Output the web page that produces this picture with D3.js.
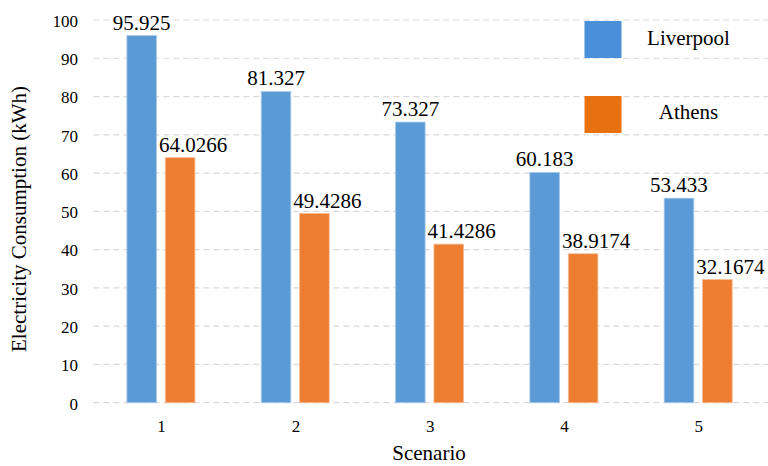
<!DOCTYPE html>
<html>
<head>
<meta charset="utf-8">
<script src="https://cdn.jsdelivr.net/npm/d3@7"></script>
<style>
  html, body { margin: 0; padding: 0; background: #fff; }
  svg { display: block; }
  svg text { font-family: 'Liberation Serif', 'DejaVu Serif', serif; }
</style>
</head>
<body>
<svg id="chart" width="768" height="466"></svg>
<script>
// Electricity consumption per scenario for two cities
const scenarios = ["1", "2", "3", "4", "5"];
const seriesNames = ["Liverpool", "Athens"];
const liverpool = [95.925, 81.327, 73.327, 60.183, 53.433];
const athens = [64.0266, 49.4286, 41.4286, 38.9174, 32.1674];
const yTicks = [0, 10, 20, 30, 40, 50, 60, 70, 80, 90, 100];

const barColors = ["#5b9bd5", "#ed7d31"];
const legendColors = ["#4a90d9", "#e9700f"];
const serif = "'Liberation Serif', 'DejaVu Serif', serif";

const svg = d3.select("#chart");
const plot = { left: 94.4, right: 766, top: 20, bottom: 402.7 };

const x = d3.scaleBand().domain(scenarios).range([plot.left, plot.right]).padding(0);
const xs = d3.scaleBand().domain(seriesNames).range([32.5, 100.5]).paddingInner(0.23).paddingOuter(0);
const y = d3.scaleLinear().domain([0, 100]).range([plot.bottom, plot.top]);

// dashed horizontal gridlines
svg.append("g")
  .selectAll("line")
  .data(yTicks)
  .join("line")
  .attr("x1", plot.left - 1)
  .attr("x2", 768)
  .attr("y1", d => y(d))
  .attr("y2", d => y(d))
  .attr("stroke", "#d9d9d9")
  .attr("stroke-width", 1.2)
  .attr("stroke-dasharray", "6,4");

// y axis tick labels
const yAxis = d3.axisLeft(y).tickValues(yTicks).tickSize(0).tickPadding(0);
const yg = svg.append("g").attr("transform", "translate(78,0)").call(yAxis)
  .attr("font-family", serif);
yg.select(".domain").remove();
yg.selectAll("text")
  .style("font-family", serif)
  .attr("font-size", 17)
  .attr("fill", "#000")
  .attr("dy", "0.55em")
  .attr("y", -3);

// x axis tick labels
const xAxis = d3.axisBottom(x).tickSize(0).tickPadding(0);
const xg = svg.append("g").attr("transform", "translate(0,432)").call(xAxis)
  .attr("font-family", serif);
xg.select(".domain").remove();
xg.selectAll("text")
  .style("font-family", serif)
  .attr("font-size", 17)
  .attr("fill", "#000")
  .attr("dy", 0)
  .attr("y", 0);

// grouped bars
const rows = scenarios.map((s, i) => ({ s, vals: [liverpool[i], athens[i]] }));
const groups = svg.append("g")
  .selectAll("g")
  .data(rows)
  .join("g")
  .attr("transform", d => `translate(${x(d.s)},0)`);

groups.selectAll("rect")
  .data(d => d.vals.map((v, k) => ({ v, k })))
  .join("rect")
  .attr("x", d => xs(seriesNames[d.k]))
  .attr("width", xs.bandwidth())
  .attr("y", d => y(d.v))
  .attr("height", d => y(0) - y(d.v))
  .attr("fill", d => barColors[d.k])
  .attr("stroke", d => d.k === 0 ? "#a9c9ec" : "#f6bb93")
  .attr("stroke-width", 0.8);

// value labels
const labelShift = [0, 13];
groups.selectAll("text.val")
  .data(d => d.vals.map((v, k) => ({ v, k })))
  .join("text")
  .attr("class", "val")
  .attr("x", d => xs(seriesNames[d.k]) + xs.bandwidth() / 2 + labelShift[d.k])
  .attr("y", d => y(d.v) - 6)
  .attr("text-anchor", "middle")
  .style("font-family", serif)
  .attr("font-size", 21)
  .attr("fill", "#000")
  .text(d => String(d.v));

// legend
const legend = svg.append("g");
const legendRows = [
  { name: seriesNames[0], top: 21, textY: 45 },
  { name: seriesNames[1], top: 96, textY: 119 }
];
legend.selectAll("rect")
  .data(legendRows)
  .join("rect")
  .attr("x", 584.5)
  .attr("y", d => d.top)
  .attr("width", 37)
  .attr("height", 37)
  .attr("fill", (d, i) => legendColors[i]);
legend.selectAll("text")
  .data(legendRows)
  .join("text")
  .attr("x", 688.5)
  .attr("y", d => d.textY)
  .attr("text-anchor", "middle")
  .style("font-family", serif)
  .attr("font-size", 21)
  .attr("fill", "#000")
  .text(d => d.name);

// axis titles
svg.append("text")
  .attr("transform", "translate(26,219) rotate(-90)")
  .attr("text-anchor", "middle")
  .style("font-family", serif)
  .attr("font-size", 21)
  .attr("fill", "#000")
  .text("Electricity Consumption (kWh)");

svg.append("text")
  .attr("x", 429)
  .attr("y", 460)
  .attr("text-anchor", "middle")
  .style("font-family", serif)
  .attr("font-size", 21)
  .attr("fill", "#000")
  .text("Scenario");
</script>
</body>
</html>
